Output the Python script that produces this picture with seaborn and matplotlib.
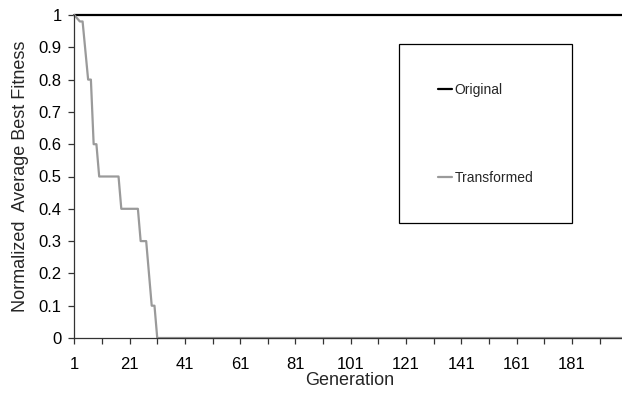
import numpy as np
import pandas as pd
import matplotlib
matplotlib.use("Agg")
import matplotlib.pyplot as plt
import seaborn as sns

# ── Data ──────────────────────────────────────────────────────────────────────

generations = list(range(1, 201))
original = [1.0] * 200
transformed_head = [1.0, 0.99, 0.98, 0.98, 0.89, 0.8, 0.8, 0.6, 0.6,
                    0.5, 0.5, 0.5, 0.5, 0.5, 0.5, 0.5, 0.5,
                    0.4, 0.4, 0.4, 0.4, 0.4, 0.4, 0.4,
                    0.3, 0.3, 0.3, 0.2, 0.1, 0.1]
transformed = transformed_head + [0.0] * (200 - len(transformed_head))

series_names = ["Original", "Transformed"]
series_colors = ["#000000", "#9a9a9a"]

y_ticks = [0, 0.1, 0.2, 0.3, 0.4, 0.5, 0.6, 0.7, 0.8, 0.9, 1.0]
y_tick_labels = ["0", "0.1", "0.2", "0.3", "0.4", "0.5", "0.6", "0.7", "0.8", "0.9", "1"]
x_ticks = list(range(1, 201, 10))
x_tick_labels = ["1", "", "21", "", "41", "", "61", "", "81", "", "101", "",
                 "121", "", "141", "", "161", "", "181", ""]

df = pd.DataFrame({
    "Generation": generations * 2,
    "Fitness": original + transformed,
    "Series": ["Original"] * 200 + ["Transformed"] * 200,
})

# ── Plot ──────────────────────────────────────────────────────────────────────

sns.set_style("ticks")
plt.rcParams["font.family"] = ["Liberation Sans", "DejaVu Sans"]

W, H = 622, 394
fig = plt.figure(figsize=(W / 100, H / 100), dpi=100)
left, right, top, bottom = 74.3, 624.5, 15, 338
ax = fig.add_axes([left / W, (H - bottom) / H, (right - left) / W, (bottom - top) / H])

sns.lineplot(data=df, x="Generation", y="Fitness", hue="Series",
             hue_order=series_names, palette=dict(zip(series_names, series_colors)),
             linewidth=1.6, ax=ax, clip_on=False)

ax.set_xlim(1, 200)
ax.set_ylim(0, 1)
ax.set_yticks(y_ticks)
ax.set_yticklabels(y_tick_labels)
ax.set_xticks(x_ticks)
ax.set_xticklabels(x_tick_labels)
ax.tick_params(axis="both", labelsize=12, length=4, width=0.9, color="#333333",
               labelcolor="black")
ax.tick_params(axis="x", pad=10)
ax.tick_params(axis="y", pad=5)
ax.set_xlabel("Generation", fontsize=13, labelpad=0)
ax.set_ylabel("Normalized  Average Best Fitness", fontsize=13, labelpad=7)

sns.despine(ax=ax)
for side in ("left", "bottom"):
    ax.spines[side].set_color("#333333")
    ax.spines[side].set_linewidth(0.9)

leg = ax.legend(loc="upper left", bbox_to_anchor=(399 / W, (H - 44) / H),
                bbox_transform=fig.transFigure, frameon=True, fancybox=False,
                fontsize=10, handlelength=1.0, handletextpad=0.2,
                borderpad=2.8, labelspacing=5.3, borderaxespad=0)
leg.get_frame().set_edgecolor("black")
leg.get_frame().set_linewidth(0.9)
leg.get_frame().set_alpha(1)

fig.savefig("out.png", dpi=100)
